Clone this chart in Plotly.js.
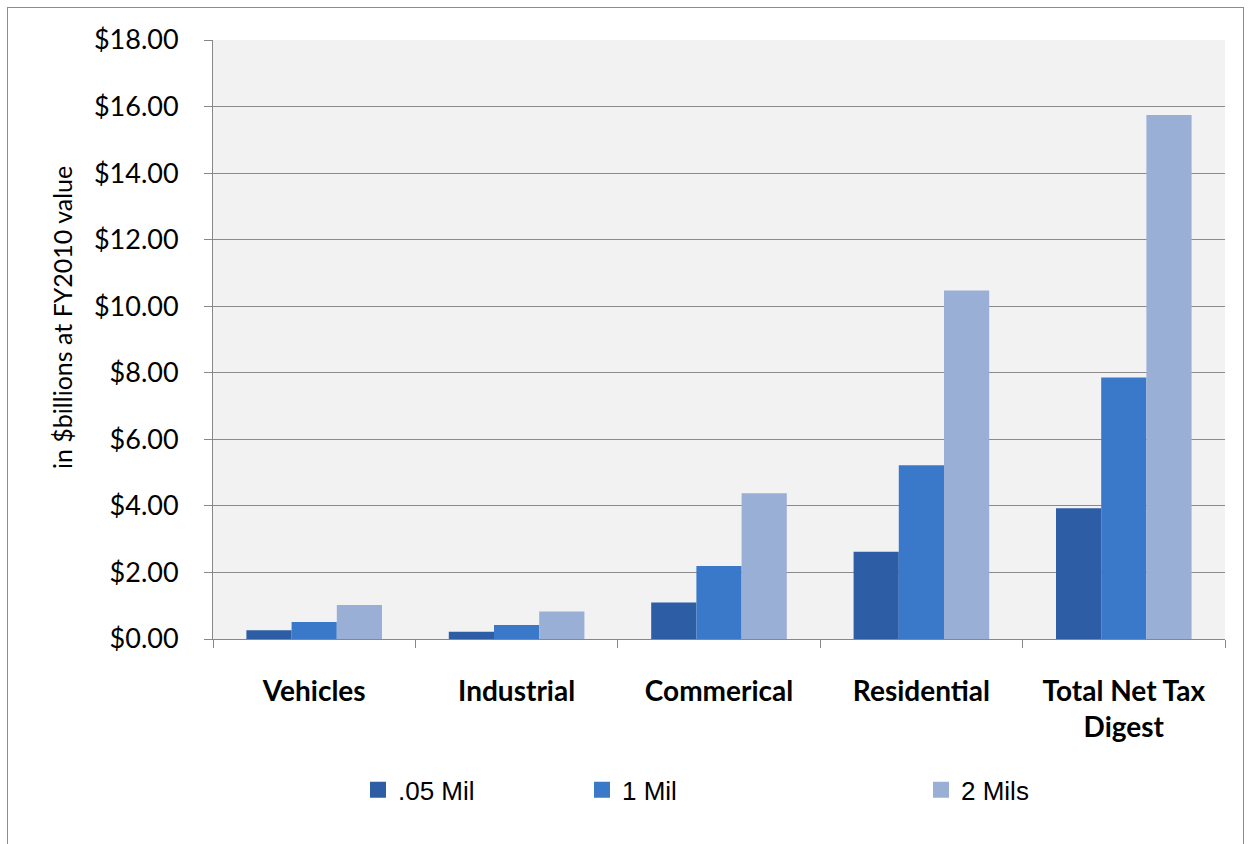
<!DOCTYPE html>
<html>
<head>
<meta charset="utf-8">
<script src="https://cdn.plot.ly/plotly-3.0.1.min.js"></script>
<style>
  html, body { margin: 0; padding: 0; background: #ffffff; }
  #wrap { position: relative; width: 1252px; height: 844px; overflow: hidden; }
  #frame { position: absolute; left: 7px; top: 7px; width: 1237px; height: 860px; border: 1px solid #8c8c8c; box-sizing: border-box; }
  #chart { position: absolute; left: 0; top: 0; width: 1252px; height: 844px; }
</style>
</head>
<body>
<div id="wrap">
  <div id="frame"></div>
  <div id="chart"></div>
</div>
<script>
const categories = ["Vehicles", "Industrial", "Commerical", "Residential", "Total Net Tax<br>Digest"];
const seriesNames = [".05 Mil", "1 Mil", "2 Mils"];
const mil05 = [0.26, 0.22, 1.10, 2.62, 3.93];
const mil1  = [0.51, 0.42, 2.19, 5.22, 7.86];
const mil2  = [1.02, 0.83, 4.38, 10.47, 15.75];
const colors = ["#2c5da5", "#3a78c9", "#9aafd6"];
const legendIds = ["legend", "legend2", "legend3"];
const yTitle = "in $billions at FY2010 value";

const values = [mil05, mil1, mil2];
const barTraces = values.map((v, i) => ({
  type: "bar",
  name: seriesNames[i],
  x: categories,
  y: v,
  showlegend: false,
  marker: { color: colors[i], line: { width: 0 } },
  hoverinfo: "x+y+name"
}));
// legend-only entries (larger square swatches like the original)
const legendTraces = seriesNames.map((n, i) => ({
  type: "scatter",
  mode: "markers",
  name: n,
  x: [null],
  y: [null],
  legend: legendIds[i],
  marker: { symbol: "square", size: 18, color: colors[i] },
  hoverinfo: "skip"
}));

const legendFont = { size: 26, family: "'Liberation Sans', Arial, sans-serif", color: "#000000" };
function legendAt(xpx) {
  return {
    orientation: "h",
    x: (xpx - 213) / 1012, xanchor: "left",
    y: -0.252, yanchor: "middle",
    font: legendFont,
    bgcolor: "rgba(0,0,0,0)",
    itemwidth: 30,
    itemsizing: "trace"
  };
}

const layout = {
  width: 1252,
  height: 844,
  margin: { l: 213, r: 27, t: 40, b: 205 },
  paper_bgcolor: "rgba(0,0,0,0)",
  plot_bgcolor: "#f2f2f2",
  font: { family: "Lato, 'Open Sans', sans-serif", color: "#000000" },
  barmode: "group",
  bargap: 0.33,
  bargroupgap: 0,
  showlegend: true,
  legend: legendAt(358),
  legend2: legendAt(582),
  legend3: legendAt(921),
  xaxis: {
    type: "category",
    tickson: "boundaries",
    ticks: "outside",
    ticklen: 8,
    tickcolor: "#888888",
    showline: true,
    linecolor: "#888888",
    linewidth: 1,
    showgrid: false,
    ticklabelstandoff: 27,
    tickfont: { size: 28, family: "Lato, 'Open Sans', sans-serif", weight: "bold" }
  },
  yaxis: {
    range: [0, 18],
    dtick: 2,
    tick0: 0,
    tickprefix: "$",
    tickformat: ".2f",
    ticks: "outside",
    ticklen: 8,
    tickcolor: "#888888",
    showline: true,
    linecolor: "#888888",
    linewidth: 1,
    showgrid: true,
    gridcolor: "#8a8a8a",
    gridwidth: 1,
    zeroline: false,
    ticklabelstandoff: 20,
    tickfont: { size: 27, family: "Lato, 'Open Sans', sans-serif" }
  },
  annotations: [{
    text: yTitle,
    xref: "paper", yref: "paper",
    x: (62 - 213) / 1012, y: (639 - 318) / 599,
    xanchor: "center", yanchor: "middle",
    textangle: -90,
    showarrow: false,
    font: { size: 25, family: "Lato, 'Open Sans', sans-serif", color: "#000000" }
  }]
};

Plotly.newPlot("chart", barTraces.concat(legendTraces), layout, { displayModeBar: false, staticPlot: true });
</script>
</body>
</html>
